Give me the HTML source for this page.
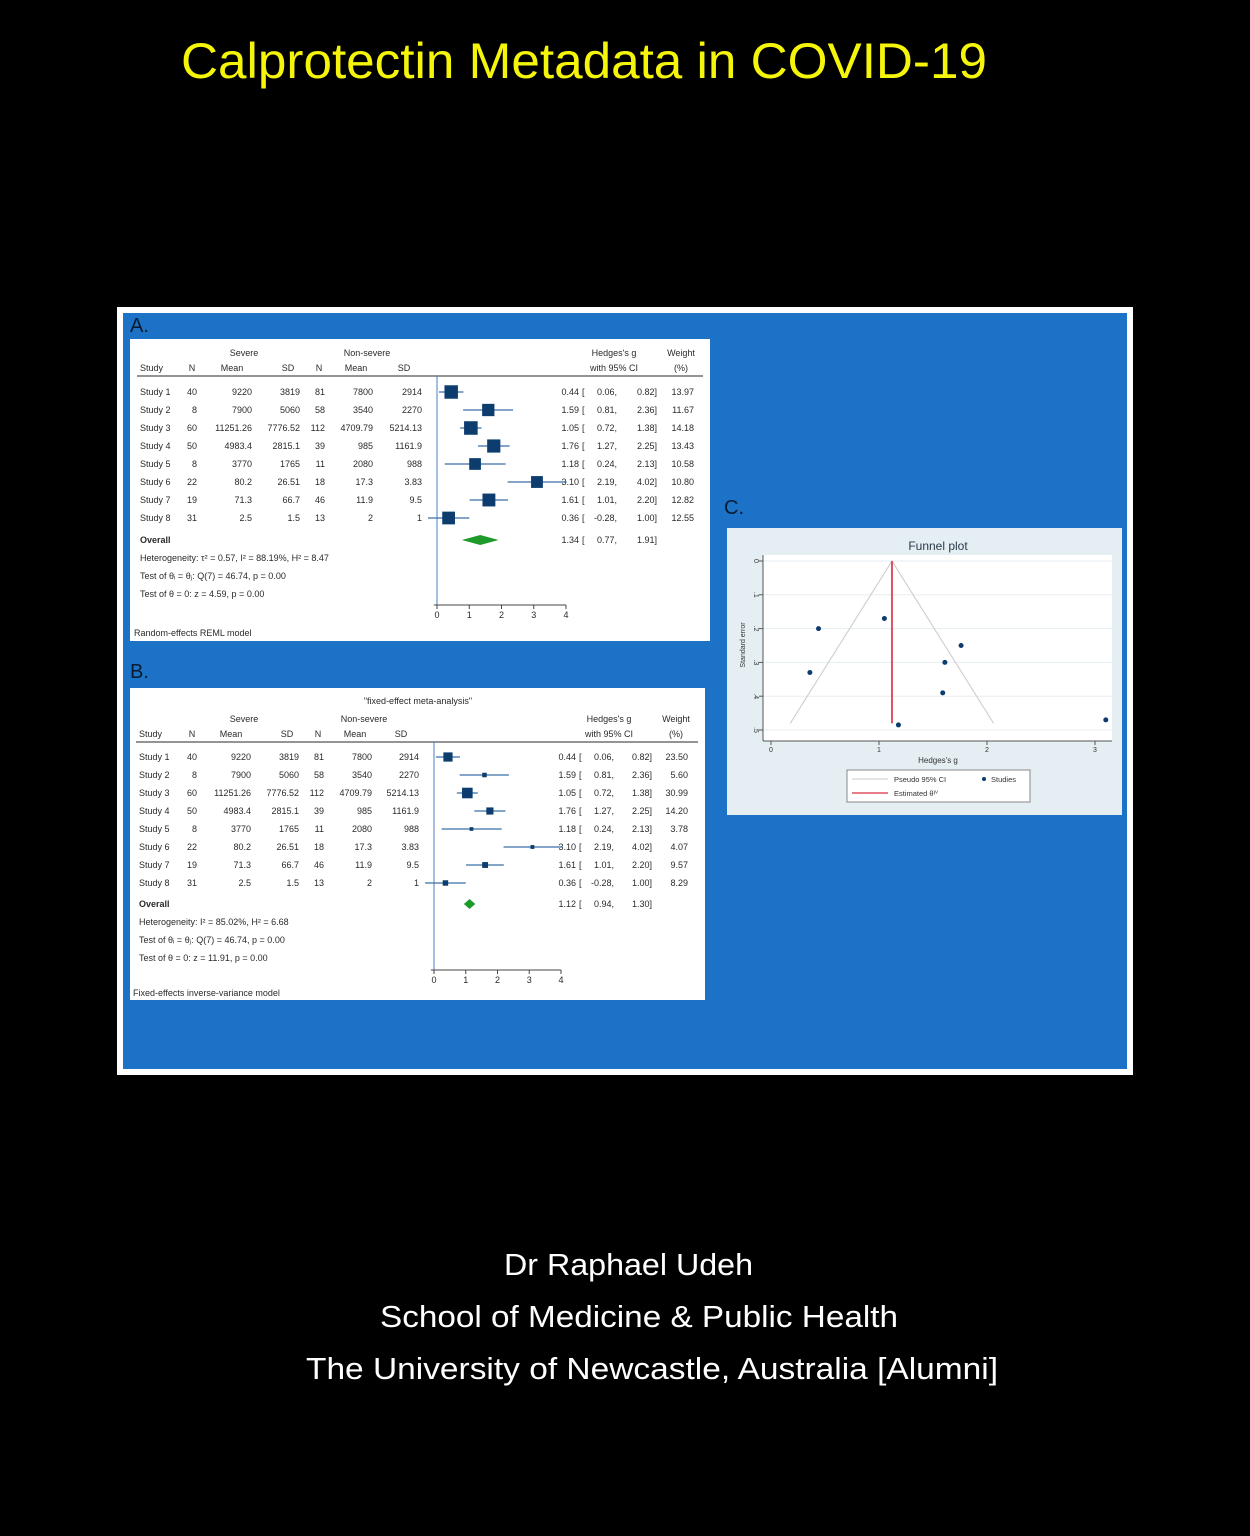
<!DOCTYPE html>
<html><head><meta charset="utf-8"><style>
html,body{margin:0;padding:0;background:#000;}
svg{display:block;font-family:"Liberation Sans",sans-serif;}
</style></head><body>
<svg id="root" width="1250" height="1536" viewBox="0 0 1250 1536">
<rect x="0" y="0" width="1250" height="1536" fill="#000"/>
<text x="181" y="78" font-size="50" fill="#f5f50a" textLength="806" lengthAdjust="spacingAndGlyphs">Calprotectin Metadata in COVID-19</text>
<rect x="117" y="307" width="1016" height="768" fill="#fff"/>
<rect x="123" y="313" width="1004" height="756" fill="#1b72c6"/>
<text x="130" y="332" font-size="20" fill="#0a1a30">A.</text>
<text x="130" y="678" font-size="20" fill="#0a1a30">B.</text>
<text x="724" y="514" font-size="20" fill="#0a1a30">C.</text>
<rect x="130" y="339" width="580" height="302" fill="#fff"/>
<rect x="130" y="688" width="575" height="312" fill="#fff"/>
<rect x="727" y="528" width="395" height="287" fill="#e4eef3"/>
<g id="forestA"></g>
<g id="forestB"></g>
<g id="funnel"></g>
<text x="504" y="1275" font-size="31" fill="#fff" textLength="249" lengthAdjust="spacingAndGlyphs">Dr Raphael Udeh</text>
<text x="380" y="1327" font-size="31" fill="#fff" textLength="518" lengthAdjust="spacingAndGlyphs">School of Medicine &amp; Public Health</text>
<text x="306" y="1379" font-size="31" fill="#fff" textLength="692" lengthAdjust="spacingAndGlyphs">The University of Newcastle, Australia [Alumni]</text>
</svg>
<script>
const studies = ["Study 1","Study 2","Study 3","Study 4","Study 5","Study 6","Study 7","Study 8"];
const sevN = ["40","8","60","50","8","22","19","31"];
const sevMean = ["9220","7900","11251.26","4983.4","3770","80.2","71.3","2.5"];
const sevSD = ["3819","5060","7776.52","2815.1","1765","26.51","66.7","1.5"];
const nonN = ["81","58","112","39","11","18","46","13"];
const nonMean = ["7800","3540","4709.79","985","2080","17.3","11.9","2"];
const nonSD = ["2914","2270","5214.13","1161.9","988","3.83","9.5","1"];
const effect = [0.44,1.59,1.05,1.76,1.18,3.10,1.61,0.36];
const ciLow = [0.06,0.81,0.72,1.27,0.24,2.19,1.01,-0.28];
const ciHigh = [0.82,2.36,1.38,2.25,2.13,4.02,2.20,1.00];
const weightRE = [13.97,11.67,14.18,13.43,10.58,10.80,12.82,12.55];
const weightFE = [23.50,5.60,30.99,14.20,3.78,4.07,9.57,8.29];
const overallRE = [1.34,0.77,1.91];
const overallFE = [1.12,0.94,1.30];
const forestTicks = [0,1,2,3,4];
const seFunnel = [0.2,0.39,0.17,0.25,0.485,0.47,0.30,0.33];
const funnelXTicks = [0,1,2,3];
const funnelYTicks = [0,0.1,0.2,0.3,0.4,0.5];

const NS="http://www.w3.org/2000/svg";
function mk(parent,tag,attrs,txt){const e=document.createElementNS(NS,tag);for(const k in attrs)e.setAttribute(k,attrs[k]);if(txt!==undefined)e.textContent=txt;parent.appendChild(e);return e;}
function fmt(v){return v.toFixed(2);}

function forest(gid,cfg){
  const g=document.getElementById(gid);
  const X=v=>cfg.x0+v*cfg.unit;
  const c=cfg.cols, fs=9, col="#2a2a2a";
  function t(x,y,s,anchor,name,weight){const e=mk(g,"text",{x:x,y:y,"font-size":fs,fill:col,"text-anchor":anchor||"start","font-weight":weight||"normal"},s);
    
    return e;}
  if(cfg.title){t(cfg.titleX,cfg.titleY,cfg.title,"middle","panel-title");}
  t(c.sevC,cfg.h1,"Severe","middle","header-severe");
  t(c.nonC,cfg.h1,"Non-severe","middle","header-non-severe");
  t(c.hgC,cfg.h1,"Hedges's g","middle","header-hedges");
  t(c.wC,cfg.h1,"Weight","middle","header-weight");
  const h2=cfg.h1+15;
  t(c.study,h2,"Study","start","header-study");
  t(c.n1-5,h2,"N","middle","header-n-severe");
  t(c.m1-20,h2,"Mean","middle","header-mean-severe");
  t(c.s1-12,h2,"SD","middle","header-sd-severe");
  t(c.n2-6,h2,"N","middle","header-n-non");
  t(c.m2-17,h2,"Mean","middle","header-mean-non");
  t(c.s2-18,h2,"SD","middle","header-sd-non");
  t(c.hgC,h2,"with 95% CI","middle","header-ci");
  t(c.wC,h2,"(%)","middle","header-weight-unit");
  const hl=mk(g,"line",{x1:c.study-3,x2:c.wC+22,y1:h2+5,y2:h2+5,stroke:"#555","stroke-width":1.2});
  
  
  const vl=mk(g,"line",{x1:X(0),x2:X(0),y1:h2+5,y2:cfg.axisY,stroke:"#4a7fc0","stroke-width":1});
  
  
  studies.forEach((s,i)=>{
    const y=cfg.row0+i*cfg.step;
    t(c.study,y+3,s,"start","study-label");
    t(c.n1,y+3,sevN[i],"end","severe-n");
    t(c.m1,y+3,sevMean[i],"end","severe-mean");
    t(c.s1,y+3,sevSD[i],"end","severe-sd");
    t(c.n2,y+3,nonN[i],"end","non-severe-n");
    t(c.m2,y+3,nonMean[i],"end","non-severe-mean");
    t(c.s2,y+3,nonSD[i],"end","non-severe-sd");
    t(c.est,y+3,fmt(effect[i]),"end","effect-value");
    t(c.est+3,y+3,"[","start","ci-bracket");
    t(c.lo,y+3,fmt(ciLow[i])+",","end","ci-low-value");
    t(c.hi,y+3,fmt(ciHigh[i])+"]","end","ci-high-value");
    t(c.w,y+3,fmt(cfg.weights[i]),"end","weight-value");
    const ln=mk(g,"line",{x1:X(ciLow[i]),x2:X(Math.min(ciHigh[i],4.1)),y1:y,y2:y,stroke:"#3a6fa8","stroke-width":1.3});
    
    
    const sz=Math.sqrt(cfg.weights[i])*cfg.sq;
    const r=mk(g,"rect",{x:X(effect[i])-sz/2,y:y-sz/2,width:sz,height:sz,fill:"#0d3d6e"});
    
    
  });
  const oy=cfg.row0+7*cfg.step+cfg.ovGap;
  t(c.study,oy+3,"Overall","start","overall-label","bold");
  const o=cfg.overall;
  t(c.est,oy+3,fmt(o[0]),"end","overall-effect");
  t(c.est+3,oy+3,"[","start","ci-bracket");
  t(c.lo,oy+3,fmt(o[1])+",","end","overall-ci-low");
  t(c.hi,oy+3,fmt(o[2])+"]","end","overall-ci-high");
  const dm=mk(g,"polygon",{points:`${X(o[1])},${oy} ${X(o[0])},${oy-cfg.dh} ${X(o[2])},${oy} ${X(o[0])},${oy+cfg.dh}`,fill:"#1e9a2a"});
  
  
  cfg.notes.forEach((n,i)=>{t(c.study,oy+21+i*18,n,"start","heterogeneity-note");});
  const ax=mk(g,"line",{x1:X(-0.1),x2:X(4),y1:cfg.axisY,y2:cfg.axisY,stroke:"#444","stroke-width":1});
  
  
  forestTicks.forEach(v=>{
    const tk=mk(g,"line",{x1:X(v),x2:X(v),y1:cfg.axisY,y2:cfg.axisY+4,stroke:"#444"});
    
    
    t(X(v),cfg.axisY+13,String(v),"middle","x-tick-label");
  });
  t(c.study-6,cfg.footY,cfg.footer,"start","model-footnote");
}

forest("forestA",{x0:437,unit:32.25,row0:392,step:18,ovGap:22,axisY:605,h1:356,footY:636,sq:3.6,dh:5,
 weights:weightRE,overall:overallRE,
 cols:{study:140,n1:197,m1:252,s1:300,n2:325,m2:373,s2:422,est:579,lo:617,hi:657,w:694,sevC:244,nonC:367,hgC:614,wC:681},
 notes:["Heterogeneity: \u03C4\u00B2 = 0.57, I\u00B2 = 88.19%, H\u00B2 = 8.47","Test of \u03B8\u1D62 = \u03B8\u2C7C: Q(7) = 46.74, p = 0.00","Test of \u03B8 = 0: z = 4.59, p = 0.00"],
 footer:"Random-effects REML model"});
forest("forestB",{x0:434,unit:31.75,row0:757,step:18,ovGap:21,axisY:970,h1:722,footY:996,sq:1.9,dh:5,
 title:"\"fixed-effect meta-analysis\"",titleX:418,titleY:704,
 weights:weightFE,overall:overallFE,
 cols:{study:139,n1:197,m1:251,s1:299,n2:324,m2:372,s2:419,est:576,lo:614,hi:652,w:688,sevC:244,nonC:364,hgC:609,wC:676},
 notes:["Heterogeneity: I\u00B2 = 85.02%, H\u00B2 = 6.68","Test of \u03B8\u1D62 = \u03B8\u2C7C: Q(7) = 46.74, p = 0.00","Test of \u03B8 = 0: z = 11.91, p = 0.00"],
 footer:"Fixed-effects inverse-variance model"});

(function(){
  const g=document.getElementById("funnel");
  const X=v=>771+v*108, Y=v=>561+v*338;
  const pr=mk(g,"rect",{x:763,y:555,width:349,height:186,fill:"#fff"});
  
  
  const tt=mk(g,"text",{x:938,y:550,"font-size":12,fill:"#2a3a4a","text-anchor":"middle"},"Funnel plot");
  
  
  funnelYTicks.forEach(v=>{
    const gl=mk(g,"line",{x1:763,x2:1112,y1:Y(v),y2:Y(v),stroke:"#e6eef2"});
    
    
    const tk=mk(g,"line",{x1:759,x2:763,y1:Y(v),y2:Y(v),stroke:"#555"});
    
    
    const lb=mk(g,"text",{x:0,y:0,"font-size":7,fill:"#333","text-anchor":"middle",transform:`translate(754,${Y(v)}) rotate(90)`},v===0?"0":String(v).replace("0.","."));
    
    
  });
  const yt=mk(g,"text",{x:0,y:0,"font-size":7,fill:"#333","text-anchor":"middle",transform:"translate(745,645) rotate(-90)"},"Standard error");
  
  
  const xa=mk(g,"line",{x1:763,x2:1112,y1:741,y2:741,stroke:"#555"});
  
  
  const ya=mk(g,"line",{x1:763,x2:763,y1:555,y2:741,stroke:"#555"});
  
  
  funnelXTicks.forEach(v=>{
    const tk=mk(g,"line",{x1:X(v),x2:X(v),y1:741,y2:745,stroke:"#555"});
    
    
    const lb=mk(g,"text",{x:X(v),y:752,"font-size":7,fill:"#333","text-anchor":"middle"},String(v));
    
    
  });
  const xt=mk(g,"text",{x:938,y:763,"font-size":8,fill:"#333","text-anchor":"middle"},"Hedges's g");
  
  
  const th=overallFE[0], seMax=0.48;
  const tri=mk(g,"polyline",{points:`${X(th-1.96*seMax)},${Y(seMax)} ${X(th)},${Y(0)} ${X(th+1.96*seMax)},${Y(seMax)}`,fill:"none",stroke:"#c8c8c8","stroke-width":1});
  
  
  const el=mk(g,"line",{x1:X(th),x2:X(th),y1:Y(0),y2:Y(seMax),stroke:"#e05060","stroke-width":2});
  
  
  effect.forEach((e,i)=>{
    const c=mk(g,"circle",{cx:X(e),cy:Y(seFunnel[i]),r:2.5,fill:"#0d3d6e"});
    
    
  });
  const lg=mk(g,"rect",{x:847,y:770,width:183,height:32,fill:"#fff",stroke:"#888"});
  
  
  const l1=mk(g,"line",{x1:852,x2:888,y1:779,y2:779,stroke:"#c8c8c8"});
  
  
  const t1=mk(g,"text",{x:894,y:782,"font-size":7.5,fill:"#333"},"Pseudo 95% CI");
  
  
  const l2=mk(g,"circle",{cx:984,cy:779,r:2,fill:"#0d3d6e"});
  
  
  const t2=mk(g,"text",{x:991,y:782,"font-size":7.5,fill:"#333"},"Studies");
  
  
  const l3=mk(g,"line",{x1:852,x2:888,y1:793,y2:793,stroke:"#e05060","stroke-width":1.5});
  
  
  const t3=mk(g,"text",{x:894,y:796,"font-size":7.5,fill:"#333"},"Estimated \u03B8\u1D35\u2C7D");
  
  
})();
</script>
</body></html>
